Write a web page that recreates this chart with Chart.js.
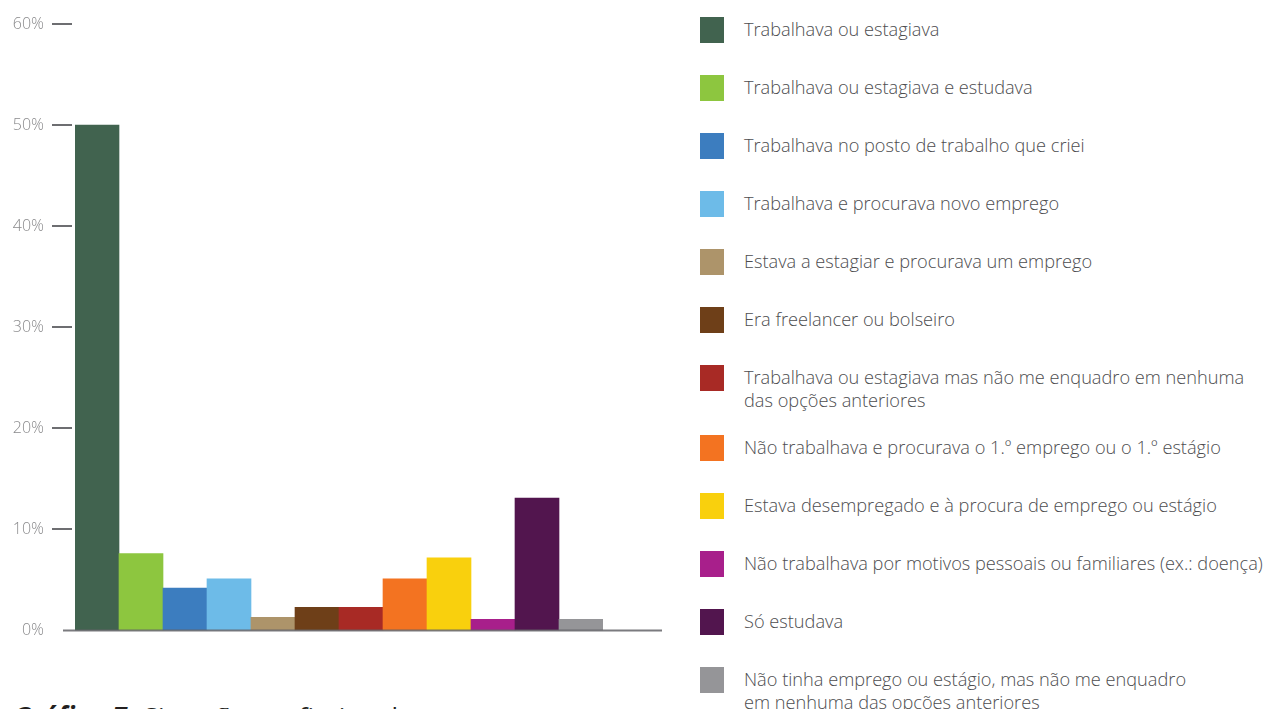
<!DOCTYPE html>
<html>
<head>
    <title>Situação profissional</title>
    <script src="https://cdn.jsdelivr.net/npm/chart.js"></script>
    <style>
        body { margin: 0; width: 1265px; height: 709px; overflow: hidden; background: #fff; font-family: "Open Sans", sans-serif; }
        #sitChart { position: absolute; left: 0; top: 0; }
        #legend { position: absolute; left: 700px; top: 17px; margin: 0; padding: 0; list-style: none; }
        #legend li { display: flex; align-items: flex-start; min-height: 35px; padding-bottom: 23px; }
        #legend .box { width: 24px; height: 26px; flex: none; }
        #legend .txt { margin-left: 20px; padding-top: 1px; font-size: 18.2px; font-weight: 300; line-height: 23px; color: #4d4d4f; white-space: nowrap; }
        #caption { position: absolute; left: 13px; top: 703px; font-size: 26px; line-height: 26px; color: #231f20; white-space: nowrap; word-spacing: 3px; }
        #caption b { font-style: italic; font-weight: 700; }
    </style>
</head>
<body>
    <canvas id="sitChart" width="680" height="660"></canvas>
    <ul id="legend"></ul>
    <div id="caption"><b>Gráfico 7:</b> Situação profissional</div>

    <script>
        // Categories (legend text, lines split where the legend wraps)
        const situacoes = [
            ['Trabalhava ou estagiava'],
            ['Trabalhava ou estagiava e estudava'],
            ['Trabalhava no posto de trabalho que criei'],
            ['Trabalhava e procurava novo emprego'],
            ['Estava a estagiar e procurava um emprego'],
            ['Era freelancer ou bolseiro'],
            ['Trabalhava ou estagiava mas não me enquadro em nenhuma', 'das opções anteriores'],
            ['Não trabalhava e procurava o 1.º emprego ou o 1.º estágio'],
            ['Estava desempregado e à procura de emprego ou estágio'],
            ['Não trabalhava por motivos pessoais ou familiares (ex.: doença)'],
            ['Só estudava'],
            ['Não tinha emprego ou estágio, mas não me enquadro', 'em nenhuma das opções anteriores']
        ];

        // Share of respondents, in %
        const percentagens = [50, 7.6, 4.2, 5.1, 1.3, 2.3, 2.3, 5.1, 7.2, 1.1, 13.1, 1.1];

        const cores = [
            '#41634f', '#8dc63f', '#3c7dbf', '#6dbbe8', '#ad946a', '#6e3f18',
            '#a82a25', '#f37321', '#f9d00d', '#a81f8b', '#52154e', '#959598'
        ];

        // y axis ticks
        const yTicks = [0, 10, 20, 30, 40, 50, 60];

        // short dashes next to the y labels and the baseline under the bars
        const axisMarks = {
            id: 'axisMarks',
            afterDatasetsDraw(chart) {
                const ctx = chart.ctx;
                const y = chart.scales.y;
                const area = chart.chartArea;
                ctx.save();
                ctx.strokeStyle = '#6d6e71';
                ctx.lineWidth = 2;
                yTicks.forEach(v => {
                    if (v === 0) return;
                    const py = Math.round(y.getPixelForValue(v));
                    ctx.beginPath();
                    ctx.moveTo(area.left - 23, py);
                    ctx.lineTo(area.left - 3, py);
                    ctx.stroke();
                });
                const y0 = y.getPixelForValue(0);
                ctx.strokeStyle = 'rgba(100, 100, 104, 0.85)';
                ctx.beginPath();
                ctx.moveTo(area.left - 12, y0);
                ctx.lineTo(area.right + 59, y0);
                ctx.stroke();
                ctx.restore();
            }
        };

        const ctx = document.getElementById('sitChart').getContext('2d');
        const chart = new Chart(ctx, {
            type: 'bar',
            data: {
                labels: situacoes.map(s => s.join(' ')),
                datasets: [{
                    data: percentagens,
                    backgroundColor: cores,
                    borderWidth: 0,
                    categoryPercentage: 1,
                    barPercentage: 1
                }]
            },
            options: {
                responsive: false,
                animation: false,
                layout: { padding: { top: 24, right: 77, bottom: 29.5, left: 0 } },
                plugins: { legend: { display: false }, tooltip: { enabled: false } },
                scales: {
                    x: { display: false },
                    y: {
                        min: 0,
                        max: 60,
                        afterFit(scale) {
                            // labels sit beside the axis; no extra room above/below
                            scale.width = 75;
                            scale.paddingTop = 0;
                            scale.paddingBottom = 0;
                        },
                        afterBuildTicks(scale) { scale.ticks = yTicks.map(v => ({ value: v })); },
                        grid: { display: false, drawTicks: false },
                        border: { display: false },
                        ticks: {
                            padding: 31,
                            color: '#8a8a8c',
                            font: { family: 'Open Sans', size: 16, weight: 300 },
                            callback: v => v + '%'
                        }
                    }
                }
            },
            plugins: [axisMarks]
        });

        // legend built from the chart's own labels and colours
        const legend = document.getElementById('legend');
        situacoes.forEach((lines, i) => {
            const li = document.createElement('li');
            const box = document.createElement('span');
            box.className = 'box';
            box.style.background = chart.data.datasets[0].backgroundColor[i];
            const txt = document.createElement('span');
            txt.className = 'txt';
            txt.innerHTML = lines.join('<br>');
            li.appendChild(box);
            li.appendChild(txt);
            legend.appendChild(li);
        });
    </script>
</body>
</html>
